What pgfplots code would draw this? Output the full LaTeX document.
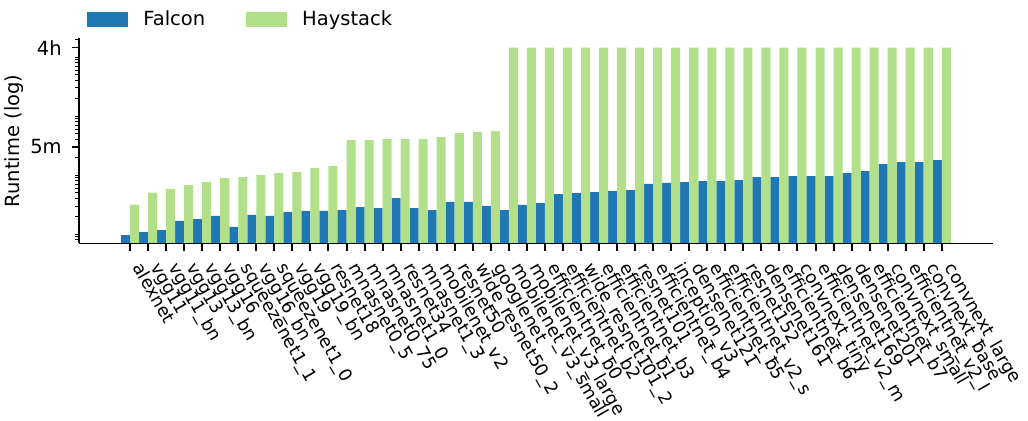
\documentclass[border=0pt]{standalone}
\usepackage{fontspec}
\setmainfont{DejaVu Sans}
\usepackage{pgfplots}
\usepackage{pgfplotstable}
\pgfplotsset{compat=1.18}

\definecolor{falcon}{HTML}{1F77B4}
\definecolor{haystack}{HTML}{B2DF8A}

% runtimes in seconds; Haystack runs that hit the 4h limit are stored as 14400
\pgfplotstableread{
idx falcon haystack
0  9.7   31.3
1  10.9  50.5
2  11.8  58.4
3  16.8  68.2
4  18.1  76.7
5  20.4  89.6
6  13.3  93.2
7  21.2  100.7
8  20.4  108.9
9  23.8  113.2
10 24.8  132.3
11 24.8  143
12 25.7  394
13 28.9  394
14 27.8  410
15 41.1  410
16 27.8  410
17 25.7  443
18 35.2  518
19 35.2  538
20 30.1  560
21 25.7  14400
22 31.3  14400
23 33.8  14400
24 48.0  14400
25 49.9  14400
26 51.9  14400
27 54.0  14400
28 56.1  14400
29 71.0  14400
30 73.8  14400
31 76.7  14400
32 79.7  14400
33 79.7  14400
34 82.9  14400
35 93.2  14400
36 93.2  14400
37 96.9  14400
38 96.9  14400
39 96.9  14400
40 108.9 14400
41 117.7 14400
42 154.6 14400
43 167.2 14400
44 167.2 14400
45 180.8 14400
}\runtimes

\begin{document}
\begin{tikzpicture}
\useasboundingbox (-39.5pt,-88.35pt) rectangle (474.5pt,121.65pt);
\begin{axis}[
  scale only axis,
  width=457pt, height=102.5pt,
  axis on top,
  ymode=log, log origin=infty,
  xmin=-2.83, xmax=47.84, ymin=7.03, ymax=20780,
  ybar=0pt, bar width=0.5,
  axis x line*=bottom, axis y line*=left,
  axis line style={line width=0.65pt, black},
  xtick={0,...,45},
  xticklabels={alexnet, vgg11, vgg11\_bn, vgg13, vgg13\_bn, vgg16, squeezenet1\_1,
    vgg16\_bn, squeezenet1\_0, vgg19, vgg19\_bn, resnet18, mnasnet0\_5, mnasnet0\_75,
    mnasnet1\_0, resnet34, mnasnet1\_3, mobilenet\_v2, resnet50, wide\_resnet50\_2,
    googlenet, mobilenet\_v3\_small, mobilenet\_v3\_large, efficientnet\_b0,
    efficientnet\_b2, wide\_resnet101\_2, efficientnet\_b1, efficientnet\_b3,
    resnet101, efficientnet\_b4, inception\_v3, densenet121, efficientnet\_b5,
    efficientnet\_v2\_s, resnet152, densenet161, efficientnet\_b6, convnext\_tiny,
    efficientnet\_v2\_m, densenet169, densenet201, efficientnet\_b7, convnext\_small,
    efficientnet\_v2\_l, convnext\_base, convnext\_large},
  ytick={300,14400}, yticklabels={5m,4h},
  minor ytick={8,9,10,20,30,40,50,60,70,80,90,100,200,400,500,600,700,800,900,
    1000,2000,3000,4000,5000,6000,7000,8000,9000,10000,20000},
  tick align=outside,
  major tick length=3.6pt, minor tick length=2pt,
  major tick style={line width=0.75pt, black},
  xtick style={line width=1pt, draw=black, solid},
  minor tick style={line width=0.5pt, black},
  xticklabel style={font=\fontsize{8.8}{10.6}\selectfont, xshift=7pt, yshift=-5pt,
    rotate=-60, anchor=north west, inner sep=0pt, text height=6.6pt, text depth=2pt},
  yticklabel style={font=\fontsize{9.75}{11.7}\selectfont, xshift=-1.5pt},
  ylabel={Runtime (log)},
  ylabel style={font=\fontsize{9.75}{11.7}\selectfont,
    at={(axis description cs:-0.0711,0.5)}, anchor=center},
  legend columns=2,
  legend cell align=left,
  legend style={at={(axis description cs:0,1)}, anchor=west, xshift=4pt, yshift=9.4pt,
    draw=none, fill=none, inner sep=0pt, nodes={inner sep=0pt},
    font=\fontsize{9.75}{11.7}\selectfont,
    /tikz/every odd column/.append style={column sep=7.5pt},
    /tikz/every even column/.append style={column sep=20.5pt}},
]
\addplot[fill=falcon, draw=none,
  legend image code/.code={\fill[falcon] (0pt,-3.7pt) rectangle (20.5pt,3.7pt);}]
  table[x=idx, y=falcon] {\runtimes};
\addplot[fill=haystack, draw=none,
  legend image code/.code={\fill[haystack] (0pt,-3.7pt) rectangle (20.5pt,3.7pt);}]
  table[x=idx, y=haystack] {\runtimes};
\legend{Falcon, Haystack}
\end{axis}
\end{tikzpicture}
\end{document}
